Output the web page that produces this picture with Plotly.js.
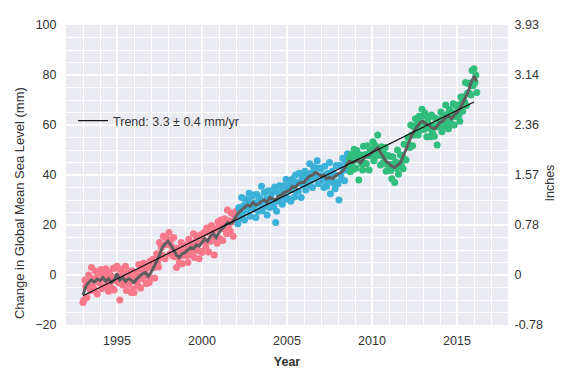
<!DOCTYPE html>
<html>
<head>
<meta charset="utf-8">
<script src="https://cdn.plot.ly/plotly-3.0.1.min.js"></script>
<style>html,body{margin:0;padding:0;background:#fff;}#chart{width:576px;height:384px;}</style>
</head>
<body>
<div id="chart"></div>
<script>
// ---- data ----
const scatterStep = 1 / 18;          // sampling of the altimetry points (years)
const topexStart = 1993.0;
const jason1Start = 2002 + 2 / 18;
const jason2Start = 2008 + 11 / 18;

const topexValues = [
  -11,-10,-2,-4.5,-9,-2.5,0,-3.7,-6.3,3,-4.3,-1.5,-5.8,1.6,-2,-7.6,0.2,-3,
  -3.2,2.2,-5.4,1,-1.5,-5,2.5,-4.2,-0.8,-6.5,1,-2.5,-5,-0.7,2.7,-6,-2.2,2.7,
  3.5,-0.3,-3.2,-10,2.3,-0.3,-4,0.5,-3,3.5,-6.2,-1.8,1.5,-3.7,-0.8,-7,1.7,-5.7,
  -7,-1.5,1,-2.5,-4.2,4.2,-0.5,-5.2,2.2,-1.5,4.7,-0.2,2,-3.5,3,-0.5,-3,5.5,
  3,-1.3,6.3,3,-1.2,5.7,8.5,5.3,3.2,13,7,11,8,15.5,12,6.5,14.8,12.2,
  12.5,17,8.5,14,11.3,7.7,15,7.3,9.7,3,10.7,7.3,5,9.5,13,4.5,7.7,11.8,
  12,9.3,7.7,5,14.3,11.7,8,12.8,9.7,16.5,7,11.5,15,9.8,12.7,6.5,16,9.5,
  9,14.5,17,13.5,11.2,18.8,13.5,9.2,16.8,13.5,19.8,15.2,17.5,8,18.5,15,12.7,21.3,
  19,14.5,22,18.5,13.8,20.2,22.5,19,16.5,26,18.8,21.7,17.5,24.8,21.2,15.5,24.2,21.8,
  25.5,22
];
const jason1Values = [
  20.5,27,25.3,22.7,31,24.3,27.7,22,30.3,27.7,26,29.8,32.7,23.5,27,31.5,
  32,28.7,26.3,23,32.2,29.3,25.5,30.8,28.2,35.5,25.7,29.8,33,27.7,30.3,24,33.7,27.3,
  27,31.8,33.7,29.5,27.3,35.2,21,25.5,33,29.5,35.7,30.8,33,28.3,35.7,33,30.2,38.3,
  35.5,30.7,37.8,34,29.5,36,38.5,34.3,31.2,40,33.5,37,33.5,40.7,36.8,31,39,36,
  36,41.5,34,40.5,38.8,36.2,44.5,37.7,40.8,35,43.3,40.7,39,42.8,45.7,36.5,39.2,42.8,
  42.5,39.7,37.8,35,43.5,40,35.5,40.7,37.8,45,32.5,38.7,41.5,36.8,40.2,34.5,43.8,37.2,
  36.5,30,43.8,40,38.3,46.7,42,37.7,45.3,42,48.5
];
const jason2Values = [
  44,46.5,41.3,48.2,45,42.2,50.3,
  47.5,42.7,49.8,46,38,46.3,48,44.5,42,51.5,44.8,48.2,44.5,51.7,47.8,42,50.3,47.7,
  48,53.3,45.7,52,50.3,47.7,56,48.3,50.7,44,51.3,47.7,45,48.5,51,41.5,44.2,47.8,
  47.5,44.2,41.8,38.5,47.3,44.2,37,45.3,42.7,50,40.3,44.7,48,43.8,47.7,42.5,52.3,46.2,
  46,52,55,52,51,60,56,51.7,59.3,56,62.5,58,60.5,56,63.5,61,58.2,66.3,
  63.5,58.2,64.8,60.5,55.3,61.2,63,58.7,55.3,64,56.8,59.7,55.5,62.8,59.2,52,62,59.5,
  60,65.2,57.3,63.5,62,59.5,68,61.2,64.3,58.5,66.2,62.8,60.5,65,68.5,60,63.3,67.7,
  68,65.5,64,61.5,71.2,68.8,65.5,71.3,69.2,77,67.8,72.7,76.5,72.7,76.8,72,81.8,75.7,
  82.5,77,80,73
];

const smoothStart = 1993.0;
const smoothStep = 1 / 6;
const smoothValues = [
  -8.0,-4.5,-3.0,-2.0,-2.8,-1.6,
  -2.2,-1.0,-2.5,-1.5,-3.0,-2.0,
  0.5,-2.0,-1.0,-2.5,-1.5,-2.0,
  -3.0,-1.5,-0.5,0.5,1.0,-0.5,
  1.0,3.0,5.5,8.0,11.0,12.5,
  13.5,12.0,10.0,8.0,7.0,8.5,
  9.0,10.0,11.0,10.5,12.0,11.5,
  13.0,14.5,13.5,15.5,16.5,15.0,
  17.0,18.5,19.5,21.0,20.5,21.5,
  23.5,25.0,26.0,27.0,28.0,27.5,
  29.0,28.0,28.5,29.5,30.0,29.0,
  31.0,30.5,30.0,31.5,32.0,33.0,
  33.5,34.0,35.5,35.0,36.5,37.0,
  37.0,38.5,39.5,40.0,41.0,40.5,
  39.5,40.0,38.5,39.0,38.5,39.5,
  40.5,41.0,42.0,44.0,45.5,45.0,
  45.5,46.0,45.0,46.5,47.5,48.0,
  49.0,50.0,51.0,49.0,47.0,45.5,
  44.5,43.5,43.0,44.0,45.0,47.5,
  50.0,53.0,56.0,58.0,59.5,61.0,
  61.5,60.5,60.0,59.0,58.5,59.5,
  61.0,61.5,63.0,63.5,62.5,64.0,
  65.0,66.5,68.5,71.0,73.5,77.0,
  79.5,77.5
];

const trendYears = [1993.0, 2016.0];
const trendValues = [-8.3, 69.2];
const trendLabel = 'Trend: 3.3 \u00b1 0.4 mm/yr';

const xTickStep = 5;
const mmTicks = [-20, 0, 20, 40, 60, 80, 100];
const inchLabels = ['-0.78', '0', '0.78', '1.57', '2.36', '3.14', '3.93'];

// ---- helpers ----
function years(start, step, n) {
  const out = [];
  for (let i = 0; i < n; i++) out.push(start + i * step);
  return out;
}

const FONT = 'Liberation Sans, Arial, sans-serif';
const TXT = '#333333';
const MS = 7;

const traces = [
  {x: years(topexStart, scatterStep, topexValues.length), y: topexValues, type: 'scatter', mode: 'markers',
   marker: {color: '#f7788b', size: MS}, showlegend: false, hoverinfo: 'skip'},
  {x: years(jason1Start, scatterStep, jason1Values.length), y: jason1Values, type: 'scatter', mode: 'markers',
   marker: {color: '#3cb1d7', size: MS}, showlegend: false, hoverinfo: 'skip'},
  {x: years(jason2Start, scatterStep, jason2Values.length), y: jason2Values, type: 'scatter', mode: 'markers',
   marker: {color: '#31bd7c', size: MS}, showlegend: false, hoverinfo: 'skip'},
  {x: years(smoothStart, smoothStep, smoothValues.length), y: smoothValues, type: 'scatter', mode: 'lines',
   line: {color: '#5e5e5e', width: 3}, showlegend: false, hoverinfo: 'skip'},
  {x: trendYears, y: trendValues, type: 'scatter', mode: 'lines', name: trendLabel, yaxis: 'y2',
   line: {color: '#111111', width: 1.2}, showlegend: true}
];

const layout = {
  width: 576, height: 384,
  margin: {l: 66, r: 68, t: 25, b: 59},
  paper_bgcolor: '#ffffff',
  plot_bgcolor: '#eaeaf2',
  font: {family: FONT, size: 13, color: TXT},
  showlegend: true,
  legend: {x: 0.016, y: 0.68, xanchor: 'left', yanchor: 'middle', bgcolor: 'rgba(0,0,0,0)',
           borderwidth: 0, font: {family: FONT, size: 12.5, color: TXT}},
  xaxis: {
    range: [1992, 2018], tickmode: 'linear', tick0: 1995, dtick: xTickStep,
    showgrid: true, gridcolor: '#ffffff', gridwidth: 2, zeroline: false, showline: false,
    ticks: 'outside', ticklen: 4, tickcolor: 'rgba(0,0,0,0)',
    tickfont: {family: FONT, size: 12.5, color: TXT},
    minor: {dtick: 1, tick0: 1992, showgrid: true, gridcolor: '#ffffff', gridwidth: 1},
    title: {text: '<b>Year</b>', font: {family: FONT, size: 12.5, color: TXT}, standoff: 10}
  },
  yaxis: {
    range: [-20, 100], tickmode: 'linear', tick0: 0, dtick: 20,
    showgrid: true, gridcolor: '#ffffff', gridwidth: 2, zeroline: false, showline: false,
    ticks: 'outside', ticklen: 6, tickcolor: 'rgba(0,0,0,0)',
    tickfont: {family: FONT, size: 12.5, color: TXT},
    minor: {dtick: 5, tick0: 0, showgrid: true, gridcolor: '#ffffff', gridwidth: 1}
  },
  yaxis2: {
    overlaying: 'y', side: 'right', range: [-20, 100],
    tickmode: 'array', tickvals: mmTicks, ticktext: inchLabels,
    showgrid: false, zeroline: false, showline: false,
    ticks: 'outside', ticklen: 3, tickcolor: 'rgba(0,0,0,0)',
    tickfont: {family: FONT, size: 12.5, color: TXT}
  },
  annotations: [
    {text: 'Change in Global Mean Sea Level (mm)', xref: 'paper', yref: 'paper',
     x: -0.105, y: 0.405, xanchor: 'center', yanchor: 'middle', textangle: -90, showarrow: false,
     font: {family: FONT, size: 13, color: TXT}},
    {text: 'Inches', xref: 'paper', yref: 'paper',
     x: 1.095, y: 0.475, xanchor: 'center', yanchor: 'middle', textangle: -90, showarrow: false,
     font: {family: FONT, size: 12.5, color: TXT}}
  ]
};

Plotly.newPlot('chart', traces, layout, {staticPlot: true, displayModeBar: false});
</script>
</body>
</html>
